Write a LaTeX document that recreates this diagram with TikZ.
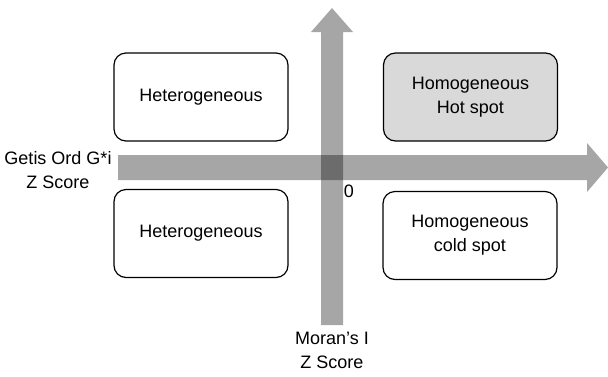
\documentclass[tikz,border=0pt]{standalone}
\usepackage{fontspec}
\setmainfont{Liberation Sans}
\begin{document}
\begin{tikzpicture}[x=1pt,y=-1pt,
  quadrant/.style={shape=rectangle,rounded corners=12pt,draw,line width=1.2pt,
    minimum width=174pt,minimum height=88pt,align=center,inner sep=0pt},
  axislabel/.style={align=center,inner sep=0pt},
  axisarrow/.style={fill=black,opacity=0.35},
  font=\fontsize{18}{24}\selectfont]
\useasboundingbox (0,0) rectangle (608,376);
% axes
\fill[axisarrow] (118,155) -- (587,155) -- (587,143) -- (608,167.5) -- (587,192) -- (587,180) -- (118,180) -- cycle;
\fill[axisarrow] (321,325) -- (321,32) -- (311,32) -- (332,8) -- (353,32) -- (343,32) -- (343,325) -- cycle;
% quadrants
\node(hetTop) at (201,97)[quadrant]              {Heterogeneous};
\node(hotSpot) at (470.5,97)[quadrant,fill={rgb,255:red,217;green,217;blue,217}] {Homogeneous\\Hot spot};
\node(hetBottom) at (201,233.5)[quadrant]        {Heterogeneous};
\node(coldSpot) at (470,235.5)[quadrant]         {Homogeneous\\cold spot};
% labels
\node(origin) at (349,191)                       {0};
\node(getis) at (58,170)[axislabel]              {Getis Ord G*i\\Z Score};
\node(moran) at (332,350)[axislabel]             {Moran's I\\Z Score};
\end{tikzpicture}
\end{document}
